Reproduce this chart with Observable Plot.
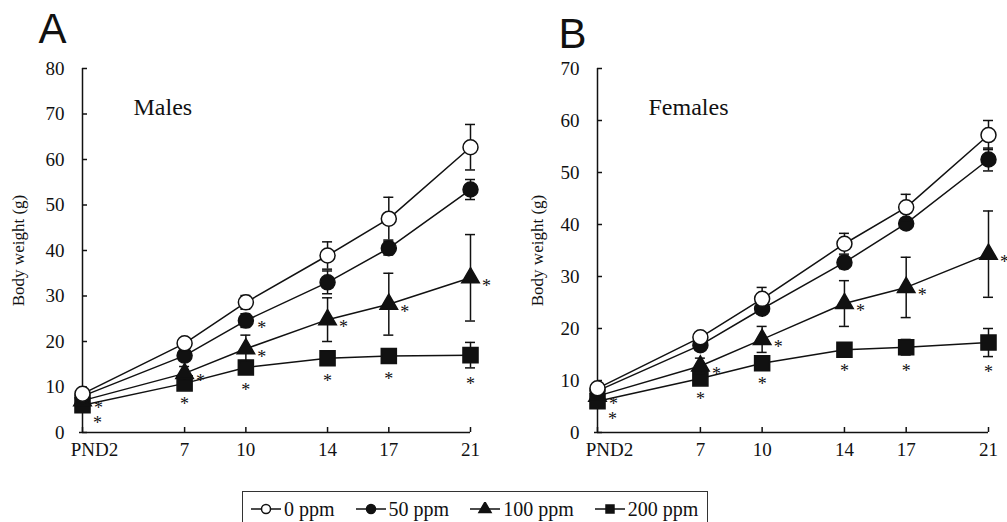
<!DOCTYPE html>
<html><head><meta charset="utf-8">
<script src="https://cdn.jsdelivr.net/npm/d3@7"></script>
<script src="https://cdn.jsdelivr.net/npm/@observablehq/plot@0.6"></script>
<style>
body{margin:0;background:#fff;width:1007px;height:522px;overflow:hidden;font-family:"Liberation Serif",serif;position:relative;}
#charts{display:flex;}
#legend{position:absolute;left:242px;top:491px;width:466px;height:36px;border:1.5px solid #333;display:flex;align-items:center;gap:21px;padding-left:8px;box-sizing:border-box;font-size:20px;color:#111;}
#legend .item{display:flex;align-items:center;gap:3px;}
</style></head>
<body>
<div id="charts"></div>
<div id="legend"></div>
<script>
const days = [2, 7, 10, 14, 17, 21];
const dayLabels = ["PND2", "7", "10", "14", "17", "21"];
const series = ["0 ppm", "50 ppm", "100 ppm", "200 ppm"];

// Males (panel A)
const male0 = [8.5, 19.6, 28.6, 38.9, 47.0, 62.7];
const male0sd = [1.0, 1.0, 1.5, 3.0, 4.7, 5.0];
const male50 = [8.0, 16.9, 24.6, 33.0, 40.5, 53.4];
const male50sd = [0.8, 1.0, 1.5, 2.5, 1.5, 2.2];
const male100 = [7.0, 13.0, 18.4, 24.8, 28.2, 34.0];
const male100sd = [0.8, 1.5, 3.0, 4.8, 6.8, 9.5];
const male200 = [6.0, 10.8, 14.3, 16.3, 16.8, 17.0];
const male200sd = [0.8, 1.0, 1.5, 1.5, 1.5, 2.8];
const maleSig50 = [10];
const maleSig100 = [2, 7, 10, 14, 17, 21];
const maleSig200 = [2, 7, 10, 14, 17, 21];
const maleTicks = [0, 10, 20, 30, 40, 50, 60, 70, 80];

// Females (panel B)
const female0 = [8.5, 18.3, 25.7, 36.3, 43.3, 57.2];
const female0sd = [0.8, 1.0, 2.2, 2.0, 2.5, 2.8];
const female50 = [8.0, 16.8, 23.8, 32.7, 40.2, 52.5];
const female50sd = [0.8, 1.0, 1.0, 1.2, 1.0, 2.2];
const female100 = [7.0, 12.8, 17.9, 24.8, 27.9, 34.3];
const female100sd = [0.8, 1.5, 2.5, 4.4, 5.8, 8.3];
const female200 = [6.0, 10.4, 13.3, 15.9, 16.4, 17.3];
const female200sd = [0.8, 1.0, 1.0, 1.0, 1.5, 2.7];
const femaleSig50 = [];
const femaleSig100 = [2, 7, 10, 14, 17, 21];
const femaleSig200 = [2, 7, 10, 14, 17, 21];
const femaleTicks = [0, 10, 20, 30, 40, 50, 60, 70];

const style = {
  "0 ppm": {symbol: "circle", r: 7.5, fill: "white"},
  "50 ppm": {symbol: "circle", r: 7.5, fill: "#111"},
  "100 ppm": {symbol: "triangle", r: 6.5, fill: "#111"},
  "200 ppm": {symbol: "square", r: 8.5, fill: "#111"}
};

function build(means, sds) {
  const rows = [];
  series.forEach((s, k) => days.forEach((d, i) => rows.push({series: s, day: d, mean: means[k][i], sd: sds[k][i]})));
  return rows;
}

function panel({rows, sig, yTicks, letter, title, width, marginLeft, marginRight, labelDx, letterDx, letterDy}) {
  const H = 475, mt = 68, mb = 43;
  const plotH = H - mt - mb, plotW = width - marginLeft - marginRight;
  const ink = "#111";
  const marks = [
    Plot.ruleY([0], {stroke: ink, strokeWidth: 1.5, insetLeft: -3}),
    Plot.ruleX([days[0]], {stroke: ink, strokeWidth: 1.5}),
    Plot.tickX(days, {x: d => d, insetTop: plotH - 5, stroke: ink, strokeWidth: 1.5}),
    Plot.tickY(yTicks, {y: d => d, insetRight: plotW - 5, stroke: ink, strokeWidth: 1.5}),
    Plot.axisY(yTicks, {tickSize: 0, tickPadding: 18, fontSize: 19, label: null, fill: ink}),
    Plot.axisX(days.slice(1), {tickSize: 0, tickPadding: 10, fontSize: 19, label: null, fill: ink, tickFormat: d => dayLabels[days.indexOf(d)]}),
    Plot.text([days[0]], {x: d => d, text: d => dayLabels[days.indexOf(d)], frameAnchor: "bottom", lineAnchor: "top", dy: 10, dx: 12, fontSize: 19, fill: ink})
  ];
  for (const s of [...series].reverse()) {
    const r = rows.filter(d => d.series === s);
    marks.push(Plot.line(r, {x: "day", y: "mean", stroke: ink, strokeWidth: 1.5}));
  }
  for (const s of [...series].reverse()) {
    const r = rows.filter(d => d.series === s);
    const st = style[s];
    marks.push(
      Plot.ruleX(r, {x: "day", y1: d => d.mean - d.sd, y2: d => d.mean + d.sd, stroke: ink, strokeWidth: 1.5}),
      Plot.ruleY(r, {x1: "day", x2: "day", y: d => d.mean + d.sd, insetLeft: -5, insetRight: -5, stroke: ink, strokeWidth: 1.5}),
      Plot.ruleY(r, {x1: "day", x2: "day", y: d => d.mean - d.sd, insetLeft: -5, insetRight: -5, stroke: ink, strokeWidth: 1.5}),
      Plot.dot(r, {x: "day", y: "mean", symbol: st.symbol, r: st.r, fill: st.fill, stroke: ink, strokeWidth: 1.5})
    );
  }
  // significance asterisks
  const find = (s, d) => rows.find(o => o.series === s && o.day === d);
  const right = [], below = [], rightBelow = [];
  sig["50 ppm"].forEach(d => right.push(find("50 ppm", d)));
  sig["100 ppm"].forEach(d => right.push(find("100 ppm", d)));
  sig["200 ppm"].forEach(d => (d === days[0] ? rightBelow : below).push(find("200 ppm", d)));
  const ast = {text: () => "*", fontSize: 18, fill: ink};
  marks.push(
    Plot.text(right, {x: "day", y: "mean", dx: 16, dy: 8, ...ast}),
    Plot.text(below, {x: "day", y: d => d.mean - d.sd, dy: 16, ...ast}),
    Plot.text(rightBelow, {x: "day", y: "mean", dx: 15, dy: 18, ...ast})
  );
  marks.push(
    Plot.text([letter], {text: d => d, frameAnchor: "top-left", dx: letterDx, dy: letterDy, fontSize: 42, fontFamily: "Liberation Sans", textAnchor: "start", fill: ink}),
    Plot.text([title], {text: d => d, frameAnchor: "top-left", dx: 51, dy: 29, fontSize: 24, textAnchor: "start", fill: ink}),
    Plot.text(["Body weight (g)"], {text: d => d, frameAnchor: "left", textAnchor: "middle", rotate: -90, dx: labelDx, dy: 0, fontSize: 17, fill: ink})
  );
  return Plot.plot({
    width, height: H, marginTop: mt, marginBottom: mb, marginLeft, marginRight,
    x: {domain: [days[0], days[days.length - 1]]},
    y: {domain: [yTicks[0], yTicks[yTicks.length - 1]]},
    style: {fontFamily: "Liberation Serif", fontSize: "19px", background: "white", color: ink, overflow: "visible"},
    marks
  });
}

const maleRows = build([male0, male50, male100, male200], [male0sd, male50sd, male100sd, male200sd]);
const femaleRows = build([female0, female50, female100, female200], [female0sd, female50sd, female100sd, female200sd]);

const charts = document.getElementById("charts");
charts.append(panel({rows: maleRows, sig: {"50 ppm": maleSig50, "100 ppm": maleSig100, "200 ppm": maleSig200}, yTicks: maleTicks, letter: "A", title: "Males", width: 517, marginLeft: 82, marginRight: 47, labelDx: -64, letterDx: -44, letterDy: -55}));
charts.append(panel({rows: femaleRows, sig: {"50 ppm": femaleSig50, "100 ppm": femaleSig100, "200 ppm": femaleSig200}, yTicks: femaleTicks, letter: "B", title: "Females", width: 490, marginLeft: 80, marginRight: 19, labelDx: -60, letterDx: -39, letterDy: -50}));

// legend
const legend = document.getElementById("legend");
const lsize = {"circle": 4.5, "triangle": 4.5, "square": 4.5};
for (const s of series) {
  const st = style[s];
  const item = document.createElement("div");
  item.className = "item";
  const sym = d3.symbol(st.symbol === "circle" ? d3.symbolCircle : st.symbol === "triangle" ? d3.symbolTriangle : d3.symbolSquare, Math.PI * lsize[st.symbol] ** 2)();
  item.innerHTML = `<svg width="30" height="14"><line x1="0" x2="30" y1="7" y2="7" stroke="#111" stroke-width="1.5"/><path d="${sym}" transform="translate(15,7)" fill="${st.fill}" stroke="#111" stroke-width="1.5"/></svg><span>${s}</span>`;
  legend.append(item);
}
</script>
</body></html>
